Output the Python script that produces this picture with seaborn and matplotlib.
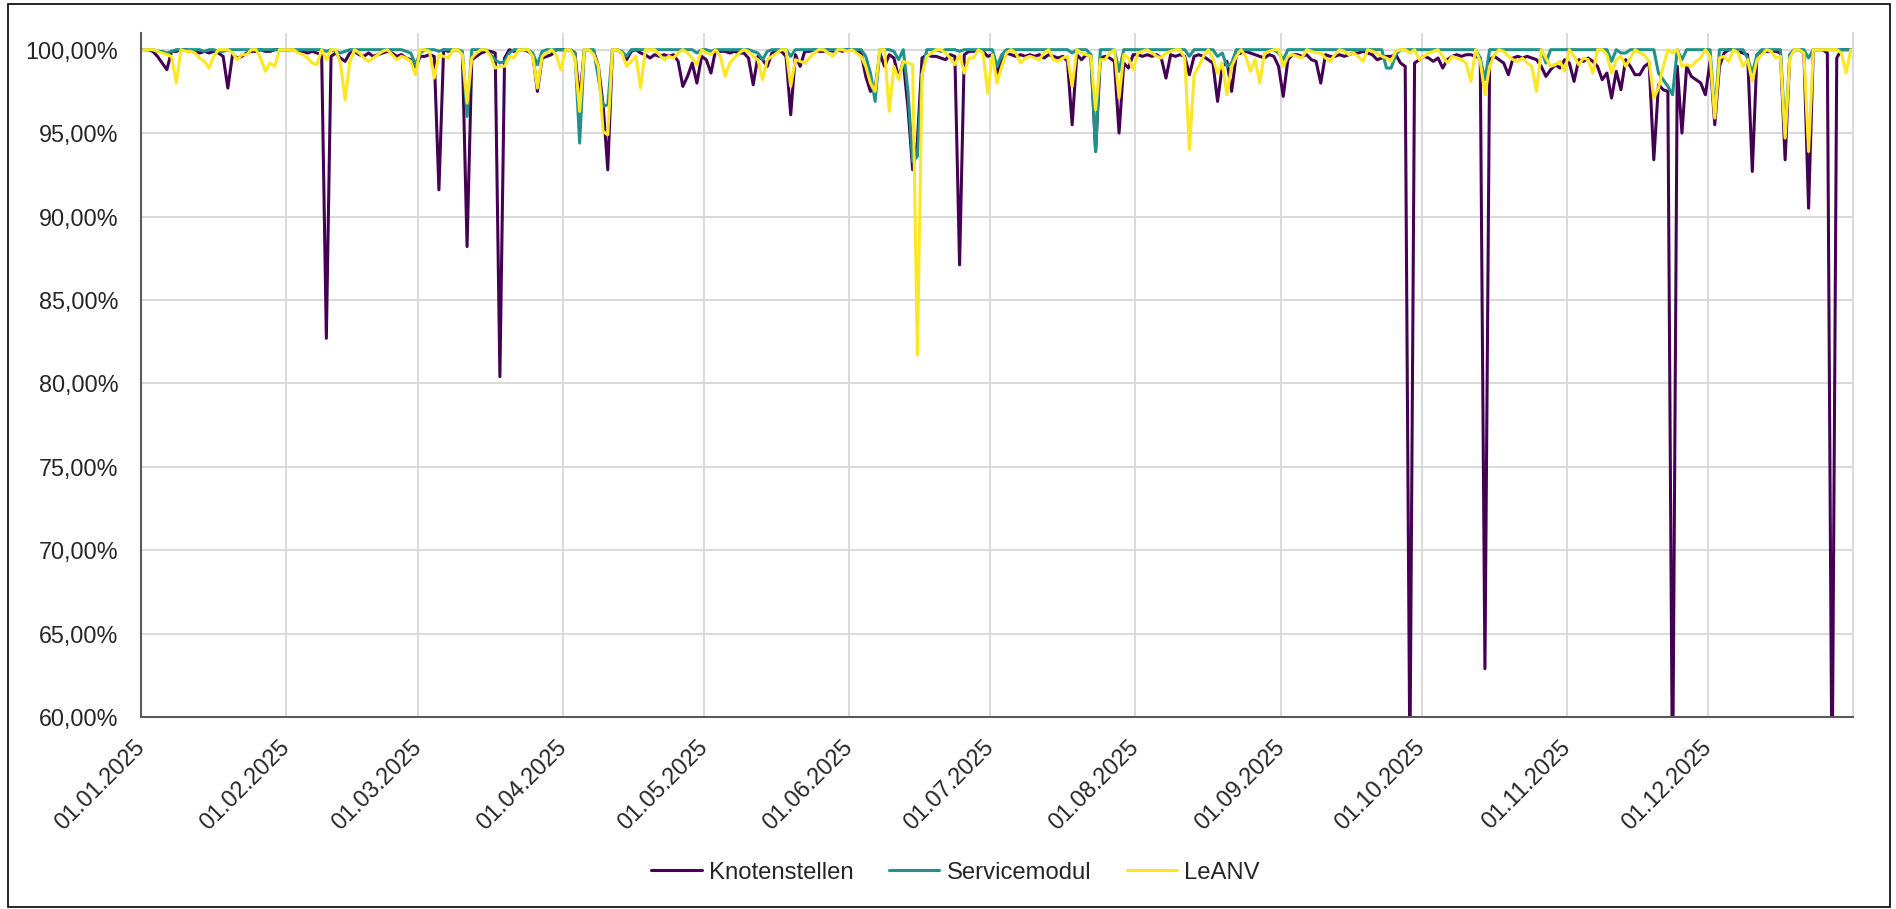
import numpy as np
import pandas as pd
import matplotlib
matplotlib.use("Agg")
import matplotlib.pyplot as plt
import matplotlib.dates as mdates
import matplotlib.ticker as mticker
from matplotlib.patches import Rectangle
import seaborn as sns

# ---------------- Daten: tägliche Verfügbarkeit in %, je Monat eine Liste ----------------
knotenstellen = [
    [100, 100, 99.9, 99.6, 99.2, 98.8, 99.9, 99.9, 100, 100, 99.9, 99.9, 99.8, 99.9, 99.8, 99.9, 99.8, 99.6, 97.7, 99.7, 99.5, 99.6, 99.8, 99.9, 99.9, 100, 99.9, 99.9, 100, 100, 100],
    [100, 100, 99.9, 99.9, 99.8, 99.9, 99.8, 99.7, 82.7, 99.6, 99.8, 99.5, 99.3, 99.8, 99.9, 99.7, 99.6, 99.8, 99.6, 99.7, 99.8, 99.9, 99.8, 99.6, 99.7, 99.5, 99.4, 98.9],
    [99.6, 99.6, 99.7, 99.6, 91.6, 100, 99.9, 100, 100, 99.8, 88.2, 99.4, 99.6, 99.8, 99.9, 99.9, 99.8, 80.4, 99.5, 100, 99.9, 100, 100, 99.9, 99.7, 97.5, 99.5, 99.6, 99.7, 100, 100],
    [100, 100, 99.8, 97.0, 100, 100, 99.9, 99.0, 96.7, 92.8, 100, 100, 99.8, 99.4, 99.9, 100, 99.8, 99.7, 99.5, 99.7, 99.6, 99.7, 99.6, 99.7, 99.3, 97.8, 98.4, 99.2, 98.0, 99.6],
    [99.4, 98.6, 100, 99.9, 99.9, 99.8, 99.9, 99.8, 99.8, 99.5, 97.9, 99.6, 99.4, 99.0, 99.8, 99.9, 99.9, 99.6, 96.1, 99.7, 99.0, 99.9, 99.9, 100, 99.9, 99.9, 100, 99.9, 100, 99.9, 100],
    [100, 99.9, 99.8, 98.4, 97.5, 97.7, 99.8, 99.0, 99.7, 99.5, 98.3, 99.3, 96.5, 92.8, 94.5, 99.5, 99.7, 99.6, 99.6, 99.5, 99.4, 99.7, 99.6, 87.1, 99.7, 99.9, 99.9, 100, 99.9, 99.6],
    [99.7, 98.6, 99.3, 99.8, 99.7, 99.6, 99.7, 99.6, 99.7, 99.6, 99.7, 99.5, 99.7, 99.6, 99.5, 99.6, 99.3, 95.5, 99.7, 99.4, 99.7, 99.6, 93.9, 99.5, 99.6, 99.5, 99.3, 95.0, 99.2, 98.9, 99.7],
    [99.7, 99.6, 99.7, 99.6, 99.7, 99.5, 98.3, 99.7, 99.6, 99.7, 99.6, 98.5, 99.6, 99.7, 99.6, 99.4, 99.2, 96.9, 99.0, 99.3, 97.5, 99.7, 99.8, 99.9, 99.8, 99.7, 99.6, 99.5, 99.7, 99.6, 99.0],
    [97.2, 99.4, 99.7, 99.7, 99.6, 99.7, 99.4, 99.3, 98.0, 99.7, 99.6, 99.6, 99.7, 99.6, 99.7, 99.8, 99.8, 99.9, 99.8, 99.7, 99.4, 99.5, 99.6, 99.6, 99.7, 99.2, 99.0, 57.0, 99.2, 99.4],
    [99.6, 99.5, 99.3, 99.5, 98.9, 99.4, 99.6, 99.7, 99.6, 99.7, 99.7, 99.6, 99.5, 62.9, 99.4, 99.6, 99.4, 99.2, 98.5, 99.5, 99.6, 99.5, 99.6, 99.5, 99.4, 99.0, 98.4, 98.8, 99.1, 98.9, 99.4],
    [99.2, 98.1, 99.4, 99.3, 99.5, 99.3, 99.0, 98.2, 98.6, 97.1, 98.7, 97.6, 99.4, 99.0, 98.5, 98.5, 99.0, 99.2, 93.4, 97.9, 97.6, 97.5, 55.0, 99.0, 95.0, 99.0, 98.4, 98.2, 98.0, 97.3],
    [99.3, 95.5, 99.0, 99.8, 100, 100, 99.9, 99.8, 99.7, 92.7, 99.7, 99.9, 99.9, 99.9, 99.9, 99.8, 93.4, 99.7, 100, 100, 99.8, 90.5, 100, 100, 100, 99.8, 55.0, 99.5, 100, 100, 100],
]

servicemodul = [
    [100, 100, 100, 99.9, 99.9, 99.8, 99.9, 100, 100, 100, 100, 100, 100, 99.9, 100, 100, 99.9, 99.9, 100, 100, 100, 100, 100, 100, 100, 100, 100, 100, 100, 100, 100],
    [100, 100, 100, 100, 100, 100, 100, 100, 99.9, 100, 99.9, 99.8, 99.9, 100, 100, 100, 100, 100, 100, 100, 100, 100, 100, 100, 100, 99.9, 99.8, 99.1],
    [99.8, 100, 100, 100, 99.9, 100, 100, 100, 100, 99.9, 96.0, 100, 100, 100, 100, 99.7, 99.4, 99.2, 99.3, 99.8, 100, 100, 100, 100, 99.8, 99.1, 99.9, 100, 100, 100, 100],
    [100, 100, 99.8, 94.4, 100, 100, 100, 98.3, 96.6, 96.7, 100, 100, 99.9, 99.6, 100, 100, 100, 100, 100, 100, 100, 100, 100, 100, 100, 100, 100, 100, 99.8, 100],
    [100, 99.9, 100, 100, 100, 100, 100, 100, 100, 100, 99.9, 99.8, 99.4, 99.9, 100, 100, 100, 100, 99.6, 100, 100, 100, 100, 100, 100, 100, 100, 100, 100, 100, 100],
    [100, 100, 100, 99.6, 98.6, 96.9, 100, 100, 100, 99.9, 99.4, 100, 97.5, 93.3, 93.6, 98.5, 100, 100, 100, 99.9, 100, 100, 100, 99.9, 100, 100, 100, 100, 100, 100],
    [100, 99.0, 99.7, 100, 100, 100, 100, 100, 100, 100, 100, 100, 100, 100, 100, 100, 100, 99.8, 100, 100, 100, 99.7, 93.9, 100, 100, 100, 100, 98.7, 100, 100, 100],
    [100, 100, 100, 100, 100, 100, 100, 100, 100, 100, 100, 99.6, 100, 100, 100, 100, 100, 99.6, 99.8, 99.0, 99.2, 100, 100, 100, 100, 100, 100, 100, 100, 100, 99.8],
    [99.4, 100, 100, 100, 100, 100, 100, 100, 100, 100, 100, 100, 100, 100, 100, 100, 100, 100, 100, 100, 100, 100, 98.9, 98.9, 99.7, 100, 100, 100, 100, 100],
    [100, 100, 100, 100, 100, 100, 100, 100, 100, 100, 100, 100, 99.5, 98.2, 100, 100, 100, 100, 100, 100, 100, 100, 100, 100, 100, 100, 99.2, 100, 100, 100, 100],
    [100, 100, 100, 100, 100, 100, 100, 100, 100, 99.3, 100, 99.8, 99.8, 100, 100, 100, 100, 100, 100, 98.6, 98.2, 97.8, 97.3, 100, 99.4, 100, 100, 100, 100, 100],
    [100, 96.1, 100, 100, 100, 100, 100, 100, 99.5, 98.6, 99.7, 100, 100, 100, 100, 100, 95.0, 99.7, 100, 100, 100, 99.5, 100, 100, 100, 100, 100, 100, 100, 100, 100],
]

leanv = [
    [100, 100, 100, 99.9, 99.8, 99.7, 99.6, 98.0, 100, 99.9, 99.9, 99.8, 99.5, 99.3, 98.9, 99.6, 100, 100, 100, 99.8, 99.4, 99.7, 99.7, 100, 100, 99.5, 98.7, 99.2, 99.0, 100, 100],
    [100, 100, 99.8, 99.7, 99.5, 99.2, 99.1, 100, 99.4, 100, 100, 99.2, 97.0, 99.3, 100, 99.8, 99.5, 99.3, 99.5, 99.7, 99.9, 100, 99.7, 99.4, 99.6, 99.5, 99.3, 98.5],
    [100, 100, 99.9, 98.3, 99.7, 99.6, 99.5, 100, 100, 99.7, 96.8, 99.5, 99.8, 100, 100, 99.6, 98.9, 99.0, 99.0, 99.6, 99.5, 100, 100, 100, 99.6, 97.7, 99.6, 99.8, 100, 99.7, 98.8],
    [100, 100, 99.5, 96.3, 100, 100, 99.7, 99.0, 95.1, 94.9, 100, 100, 99.8, 99.0, 99.3, 99.6, 97.7, 100, 100, 100, 99.7, 99.4, 99.6, 99.5, 99.8, 100, 99.8, 99.5, 99.1, 100],
    [99.8, 99.7, 100, 99.6, 98.4, 99.2, 99.5, 99.8, 100, 99.9, 99.6, 99.4, 98.2, 99.4, 99.6, 99.8, 100, 100, 97.8, 99.4, 99.3, 99.2, 99.5, 99.8, 100, 100, 99.8, 99.6, 100, 100, 99.9],
    [100, 99.8, 99.6, 99.0, 98.0, 97.5, 100, 100, 96.3, 99.0, 98.2, 99.3, 99.2, 99.1, 81.7, 98.5, 99.6, 99.8, 100, 100, 99.8, 99.5, 99.1, 99.7, 98.6, 99.5, 99.5, 100, 99.8, 97.4],
    [99.7, 98.0, 99.0, 99.8, 100, 99.8, 99.2, 99.5, 99.6, 99.5, 99.4, 99.8, 100, 99.4, 99.3, 99.5, 99.6, 97.8, 100, 99.8, 99.7, 99.6, 96.4, 99.4, 99.4, 99.8, 100, 97.1, 99.7, 99.5, 98.8],
    [99.8, 99.9, 100, 99.8, 99.6, 99.5, 99.8, 99.9, 100, 100, 99.5, 94.0, 98.5, 99.0, 99.6, 100, 99.5, 98.6, 99.2, 97.3, 99.0, 99.6, 100, 99.6, 98.7, 99.4, 98.0, 99.8, 99.9, 100, 100],
    [99.0, 99.6, 99.7, 99.6, 99.5, 100, 99.9, 99.8, 99.8, 99.5, 99.3, 99.7, 100, 99.9, 99.7, 99.8, 99.6, 99.3, 100, 99.9, 99.8, 99.6, 99.5, 99.3, 99.9, 100, 100, 99.8, 100, 99.4],
    [99.6, 99.8, 99.9, 100, 99.6, 99.2, 99.6, 99.5, 99.4, 99.2, 98.1, 100, 99.3, 97.3, 99.0, 99.7, 100, 99.9, 99.6, 99.4, 99.3, 99.5, 99.2, 99.0, 97.5, 100, 99.5, 99.0, 99.1, 99.3, 98.7],
    [100, 99.6, 99.1, 99.5, 99.4, 98.6, 100, 100, 99.7, 98.6, 99.4, 99.6, 99.0, 99.5, 100, 99.8, 99.7, 99.3, 97.1, 97.7, 99.0, 100, 99.8, 100, 99.0, 99.1, 99.0, 99.3, 99.5, 100],
    [99.6, 95.9, 99.5, 99.6, 99.3, 100, 99.8, 99.0, 99.4, 98.1, 99.4, 99.7, 100, 99.9, 99.5, 99.6, 94.7, 99.5, 100, 100, 99.8, 93.9, 100, 100, 100, 100, 100, 100, 99.8, 98.6, 100],
]

serien = ["Knotenstellen", "Servicemodul", "LeANV"]
farben = {"Knotenstellen": "#440154", "Servicemodul": "#21918c", "LeANV": "#fde725"}


def tabelle(name, monate):
    werte = [v for m in monate for v in m]
    # Excel setzt die Punkte mittig zwischen die Tagesstriche
    tage = pd.date_range("2025-01-01", periods=len(werte), freq="D") + pd.Timedelta(hours=12)
    return pd.DataFrame({"Datum": tage, "Wert": werte, "System": name})


df = pd.concat([
    tabelle("Knotenstellen", knotenstellen),
    tabelle("Servicemodul", servicemodul),
    tabelle("LeANV", leanv),
], ignore_index=True)

# ---------------- Plot ----------------
sns.set_style("white")
plt.rcParams['font.family'] = ['Liberation Sans', 'DejaVu Sans']
schrift = 16.8

fig = plt.figure(figsize=(18.96, 9.09), dpi=100)
ax = fig.add_axes([0.0744, 0.2112, 0.9030, 0.7525])

sns.lineplot(data=df, x="Datum", y="Wert", hue="System", hue_order=serien,
             palette=farben, linewidth=2.2, estimator=None, ax=ax)

ax.set_xlim(pd.Timestamp("2025-01-01"), pd.Timestamp("2026-01-01"))
ax.set_xticks(pd.date_range("2025-01-01", periods=12, freq="MS"))
ax.xaxis.set_major_formatter(mdates.DateFormatter("%d.%m.%Y"))

ax.set_ylim(60, 101)
ax.set_yticks(np.arange(60, 100.1, 5))
ax.yaxis.set_major_formatter(mticker.FuncFormatter(lambda v, p: f"{v:.2f}".replace(".", ",") + "%"))

ax.grid(True, color="#d9d9d9", linewidth=1.4)
ax.set_axisbelow(True)
ax.spines['top'].set_visible(False)
ax.spines['right'].set_color("#d9d9d9")
ax.spines['right'].set_linewidth(1.4)
for s in ['left', 'bottom']:
    ax.spines[s].set_color("#595959")
    ax.spines[s].set_linewidth(1.5)

ax.tick_params(axis='x', length=4.5, width=1.5, color="#595959", pad=15, labelsize=schrift)
ax.tick_params(axis='y', length=0, pad=16.5, labelsize=schrift)
plt.setp(ax.get_xticklabels(), rotation=45, ha='right', va='center', rotation_mode='anchor')
ax.set_xlabel("")
ax.set_ylabel("")

handles, labels = ax.get_legend_handles_labels()
ax.get_legend().remove()
fig.legend(handles, labels, loc='center', bbox_to_anchor=(0.504, 0.040), ncol=3,
           frameon=False, fontsize=17.2, handlelength=2.1, handletextpad=0.3,
           columnspacing=1.5)

# Rahmen um das ganze Diagramm
fig.patches.append(Rectangle((0.0042, 0.0022), 0.9926, 0.9934, transform=fig.transFigure,
                             fill=False, edgecolor="black", linewidth=1.2))

fig.savefig("out.png", dpi=100)
